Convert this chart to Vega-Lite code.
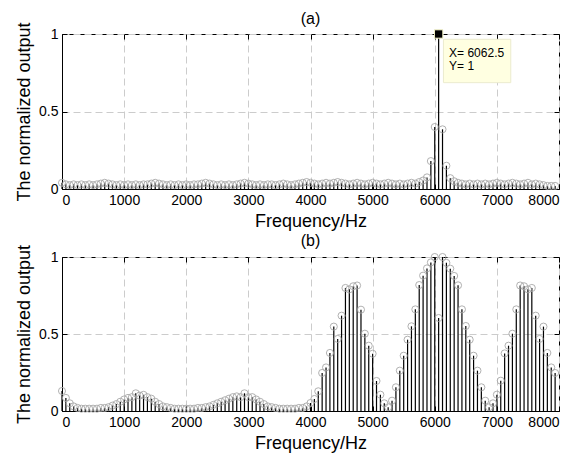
{
  "$schema": "https://vega.github.io/schema/vega-lite/v6.json",
  "padding": {"left": 15, "top": 10, "right": 5, "bottom": 3},
  "spacing": 1,
  "datasets": {
    "a": [
      {"f":0,"v":0.04},{"f":62.5,"v":0.03},{"f":125,"v":0.025},{"f":187.5,"v":0.03},{"f":250,"v":0.025},{"f":312.5,"v":0.03},{"f":375,"v":0.025},{"f":437.5,"v":0.03},
      {"f":500,"v":0.025},{"f":562.5,"v":0.03},{"f":625,"v":0.035},{"f":687.5,"v":0.04},{"f":750,"v":0.035},{"f":812.5,"v":0.03},{"f":875,"v":0.025},{"f":937.5,"v":0.03},
      {"f":1000,"v":0.025},{"f":1062.5,"v":0.03},{"f":1125,"v":0.025},{"f":1187.5,"v":0.03},{"f":1250,"v":0.025},{"f":1312.5,"v":0.03},{"f":1375,"v":0.03},{"f":1437.5,"v":0.035},
      {"f":1500,"v":0.04},{"f":1562.5,"v":0.035},{"f":1625,"v":0.03},{"f":1687.5,"v":0.025},{"f":1750,"v":0.03},{"f":1812.5,"v":0.025},{"f":1875,"v":0.03},{"f":1937.5,"v":0.025},
      {"f":2000,"v":0.03},{"f":2062.5,"v":0.025},{"f":2125,"v":0.03},{"f":2187.5,"v":0.03},{"f":2250,"v":0.035},{"f":2312.5,"v":0.04},{"f":2375,"v":0.035},{"f":2437.5,"v":0.03},
      {"f":2500,"v":0.025},{"f":2562.5,"v":0.03},{"f":2625,"v":0.025},{"f":2687.5,"v":0.03},{"f":2750,"v":0.025},{"f":2812.5,"v":0.03},{"f":2875,"v":0.035},{"f":2937.5,"v":0.04},
      {"f":3000,"v":0.035},{"f":3062.5,"v":0.03},{"f":3125,"v":0.025},{"f":3187.5,"v":0.03},{"f":3250,"v":0.025},{"f":3312.5,"v":0.03},{"f":3375,"v":0.03},{"f":3437.5,"v":0.025},
      {"f":3500,"v":0.03},{"f":3562.5,"v":0.035},{"f":3625,"v":0.03},{"f":3687.5,"v":0.025},{"f":3750,"v":0.03},{"f":3812.5,"v":0.035},{"f":3875,"v":0.04},{"f":3937.5,"v":0.045},
      {"f":4000,"v":0.04},{"f":4062.5,"v":0.035},{"f":4125,"v":0.03},{"f":4187.5,"v":0.035},{"f":4250,"v":0.04},{"f":4312.5,"v":0.035},{"f":4375,"v":0.04},{"f":4437.5,"v":0.045},
      {"f":4500,"v":0.04},{"f":4562.5,"v":0.035},{"f":4625,"v":0.03},{"f":4687.5,"v":0.035},{"f":4750,"v":0.04},{"f":4812.5,"v":0.035},{"f":4875,"v":0.03},{"f":4937.5,"v":0.035},
      {"f":5000,"v":0.04},{"f":5062.5,"v":0.035},{"f":5125,"v":0.03},{"f":5187.5,"v":0.035},{"f":5250,"v":0.04},{"f":5312.5,"v":0.035},{"f":5375,"v":0.03},{"f":5437.5,"v":0.035},
      {"f":5500,"v":0.03},{"f":5562.5,"v":0.035},{"f":5625,"v":0.04},{"f":5687.5,"v":0.035},{"f":5750,"v":0.045},{"f":5812.5,"v":0.055},{"f":5875,"v":0.075},{"f":5937.5,"v":0.18},
      {"f":6000,"v":0.40},{"f":6062.5,"v":1.0},{"f":6125,"v":0.385},{"f":6187.5,"v":0.15},{"f":6250,"v":0.07},{"f":6312.5,"v":0.05},{"f":6375,"v":0.04},{"f":6437.5,"v":0.035},
      {"f":6500,"v":0.03},{"f":6562.5,"v":0.035},{"f":6625,"v":0.03},{"f":6687.5,"v":0.035},{"f":6750,"v":0.03},{"f":6812.5,"v":0.035},{"f":6875,"v":0.03},{"f":6937.5,"v":0.035},
      {"f":7000,"v":0.04},{"f":7062.5,"v":0.035},{"f":7125,"v":0.03},{"f":7187.5,"v":0.035},{"f":7250,"v":0.04},{"f":7312.5,"v":0.035},{"f":7375,"v":0.03},{"f":7437.5,"v":0.035},
      {"f":7500,"v":0.04},{"f":7562.5,"v":0.03},{"f":7625,"v":0.035},{"f":7687.5,"v":0.03},{"f":7750,"v":0.025},{"f":7812.5,"v":0.02},{"f":7875,"v":0.02},{"f":7937.5,"v":0.02}
    ],
    "b": [
      {"f":0,"v":0.13},{"f":62.5,"v":0.085},{"f":125,"v":0.05},{"f":187.5,"v":0.03},{"f":250,"v":0.02},{"f":312.5,"v":0.015},{"f":375,"v":0.015},{"f":437.5,"v":0.015},
      {"f":500,"v":0.015},{"f":562.5,"v":0.015},{"f":625,"v":0.02},{"f":687.5,"v":0.02},{"f":750,"v":0.025},{"f":812.5,"v":0.035},{"f":875,"v":0.045},{"f":937.5,"v":0.06},
      {"f":1000,"v":0.075},{"f":1062.5,"v":0.085},{"f":1125,"v":0.09},{"f":1187.5,"v":0.115},{"f":1250,"v":0.1},{"f":1312.5,"v":0.105},{"f":1375,"v":0.09},{"f":1437.5,"v":0.08},
      {"f":1500,"v":0.06},{"f":1562.5,"v":0.045},{"f":1625,"v":0.03},{"f":1687.5,"v":0.025},{"f":1750,"v":0.02},{"f":1812.5,"v":0.015},{"f":1875,"v":0.015},{"f":1937.5,"v":0.015},
      {"f":2000,"v":0.015},{"f":2062.5,"v":0.015},{"f":2125,"v":0.015},{"f":2187.5,"v":0.02},{"f":2250,"v":0.02},{"f":2312.5,"v":0.025},{"f":2375,"v":0.03},{"f":2437.5,"v":0.04},
      {"f":2500,"v":0.05},{"f":2562.5,"v":0.06},{"f":2625,"v":0.07},{"f":2687.5,"v":0.08},{"f":2750,"v":0.09},{"f":2812.5,"v":0.095},{"f":2875,"v":0.09},{"f":2937.5,"v":0.115},
      {"f":3000,"v":0.09},{"f":3062.5,"v":0.09},{"f":3125,"v":0.075},{"f":3187.5,"v":0.06},{"f":3250,"v":0.045},{"f":3312.5,"v":0.03},{"f":3375,"v":0.025},{"f":3437.5,"v":0.02},
      {"f":3500,"v":0.015},{"f":3562.5,"v":0.015},{"f":3625,"v":0.015},{"f":3687.5,"v":0.015},{"f":3750,"v":0.015},{"f":3812.5,"v":0.02},{"f":3875,"v":0.02},{"f":3937.5,"v":0.03},
      {"f":4000,"v":0.052},{"f":4062.5,"v":0.078},{"f":4125,"v":0.128},{"f":4187.5,"v":0.247},{"f":4250,"v":0.283},{"f":4312.5,"v":0.377},{"f":4375,"v":0.548},{"f":4437.5,"v":0.468},
      {"f":4500,"v":0.619},{"f":4562.5,"v":0.799},{"f":4625,"v":0.79},{"f":4687.5,"v":0.81},{"f":4750,"v":0.815},{"f":4812.5,"v":0.658},{"f":4875,"v":0.502},{"f":4937.5,"v":0.424},
      {"f":5000,"v":0.372},{"f":5062.5,"v":0.195},{"f":5125,"v":0.106},{"f":5187.5,"v":0.05},{"f":5250,"v":0.024},{"f":5312.5,"v":0.067},{"f":5375,"v":0.154},{"f":5437.5,"v":0.262},
      {"f":5500,"v":0.359},{"f":5562.5,"v":0.463},{"f":5625,"v":0.55},{"f":5687.5,"v":0.66},{"f":5750,"v":0.818},{"f":5812.5,"v":0.879},{"f":5875,"v":0.926},{"f":5937.5,"v":0.965},
      {"f":6000,"v":1.0},{"f":6062.5,"v":0.604},{"f":6125,"v":1.0},{"f":6187.5,"v":0.962},{"f":6250,"v":0.924},{"f":6312.5,"v":0.877},{"f":6375,"v":0.816},{"f":6437.5,"v":0.66},
      {"f":6500,"v":0.552},{"f":6562.5,"v":0.463},{"f":6625,"v":0.359},{"f":6687.5,"v":0.262},{"f":6750,"v":0.154},{"f":6812.5,"v":0.067},{"f":6875,"v":0.024},{"f":6937.5,"v":0.05},
      {"f":7000,"v":0.106},{"f":7062.5,"v":0.197},{"f":7125,"v":0.374},{"f":7187.5,"v":0.424},{"f":7250,"v":0.502},{"f":7312.5,"v":0.66},{"f":7375,"v":0.815},{"f":7437.5,"v":0.81},
      {"f":7500,"v":0.79},{"f":7562.5,"v":0.799},{"f":7625,"v":0.619},{"f":7687.5,"v":0.468},{"f":7750,"v":0.548},{"f":7812.5,"v":0.377},{"f":7875,"v":0.283},{"f":7937.5,"v":0.247}
    ],
    "tip": [{"X": 6062.5, "Y": 1}]
  },
  "vconcat": [
    {
      "width": 497,
      "height": 155,
      "title": {"text": "(a)"},
      "resolve": {"axis": {"x": "independent", "y": "independent"}},
      "layer": [
        {
          "data": {"name": "a"},
          "mark": {"type": "rule", "color": "black", "strokeWidth": 1.2},
          "encoding": {
            "x": {"field": "f", "type": "quantitative", "scale": {"domain": [0, 8000], "nice": false},
                  "axis": {"orient": "bottom", "values": [0,1000,2000,3000,4000,5000,6000,7000,8000], "format": "d", "title": "Frequency/Hz", "grid": true, "labelPadding": 9}},
            "y": {"field": "v", "type": "quantitative", "scale": {"domain": [0, 1], "nice": false},
                  "axis": {"orient": "left", "values": [0, 0.5, 1], "format": ".1~f", "title": "The normalized output", "grid": true, "labelPadding": 9}},
            "y2": {"datum": 0}
          }
        },
        {
          "data": {"name": "a"},
          "mark": {"type": "point", "shape": "circle", "filled": false, "stroke": "#a8a8a8", "strokeWidth": 0.9, "size": 50, "opacity": 1},
          "encoding": {
            "x": {"field": "f", "type": "quantitative", "axis": {"orient": "top", "values": [0,1000,2000,3000,4000,5000,6000,7000,8000], "labels": false, "grid": false, "domain": false, "title": null, "minExtent": 0, "maxExtent": 0}},
            "y": {"field": "v", "type": "quantitative", "axis": {"orient": "right", "values": [0, 0.5, 1], "labels": false, "grid": false, "domain": false, "title": null, "minExtent": 0, "maxExtent": 0}}
          }
        },
        {
          "data": {"name": "tip"},
          "mark": {"type": "rect", "fill": "#ffffe1", "stroke": "#ebebcf", "strokeWidth": 1},
          "encoding": {
            "x": {"datum": 6140, "type": "quantitative", "axis": null},
            "x2": {"datum": 7224},
            "y": {"datum": 0.686, "type": "quantitative", "axis": null},
            "y2": {"datum": 0.966}
          }
        },
        {
          "data": {"name": "tip"},
          "mark": {"type": "point", "shape": "square", "filled": true, "fill": "black", "stroke": "#f5f5c8", "strokeWidth": 1, "size": 70, "opacity": 1},
          "encoding": {
            "x": {"field": "X", "type": "quantitative", "axis": null},
            "y": {"field": "Y", "type": "quantitative", "axis": null}
          }
        },
        {
          "data": {"name": "tip"},
          "mark": {"type": "text", "align": "left", "baseline": "alphabetic", "fontSize": 12, "font": "Liberation Sans", "color": "black"},
          "encoding": {
            "x": {"datum": 6231, "type": "quantitative", "axis": null},
            "y": {"datum": 0.85, "type": "quantitative", "axis": null},
            "text": {"value": "X= 6062.5"}
          }
        },
        {
          "data": {"name": "tip"},
          "mark": {"type": "text", "align": "left", "baseline": "alphabetic", "fontSize": 12, "font": "Liberation Sans", "color": "black"},
          "encoding": {
            "x": {"datum": 6231, "type": "quantitative", "axis": null},
            "y": {"datum": 0.765, "type": "quantitative", "axis": null},
            "text": {"value": "Y= 1"}
          }
        }
      ]
    },
    {
      "width": 497,
      "height": 154,
      "title": {"text": "(b)"},
      "resolve": {"axis": {"x": "independent", "y": "independent"}},
      "layer": [
        {
          "data": {"name": "b"},
          "mark": {"type": "rule", "color": "black", "strokeWidth": 1.2},
          "encoding": {
            "x": {"field": "f", "type": "quantitative", "scale": {"domain": [0, 8000], "nice": false},
                  "axis": {"orient": "bottom", "values": [0,1000,2000,3000,4000,5000,6000,7000,8000], "format": "d", "title": "Frequency/Hz", "grid": true, "labelPadding": 9}},
            "y": {"field": "v", "type": "quantitative", "scale": {"domain": [0, 1], "nice": false},
                  "axis": {"orient": "left", "values": [0, 0.5, 1], "format": ".1~f", "title": "The normalized output", "grid": true, "labelPadding": 9}},
            "y2": {"datum": 0}
          }
        },
        {
          "data": {"name": "b"},
          "mark": {"type": "point", "shape": "circle", "filled": false, "stroke": "#a8a8a8", "strokeWidth": 0.9, "size": 50, "opacity": 1},
          "encoding": {
            "x": {"field": "f", "type": "quantitative", "axis": {"orient": "top", "values": [0,1000,2000,3000,4000,5000,6000,7000,8000], "labels": false, "grid": false, "domain": false, "title": null, "minExtent": 0, "maxExtent": 0}},
            "y": {"field": "v", "type": "quantitative", "axis": {"orient": "right", "values": [0, 0.5, 1], "labels": false, "grid": false, "domain": false, "title": null, "minExtent": 0, "maxExtent": 0}}
          }
        }
      ]
    }
  ],
  "config": {
    "font": "Liberation Sans",
    "background": "white",
    "view": {"stroke": "black", "strokeWidth": 1},
    "axis": {
      "labelFont": "Liberation Sans",
      "labelFontSize": 14,
      "labelColor": "black",
      "titleFont": "Liberation Sans",
      "titleFontSize": 18,
      "titleFontWeight": "normal",
      "titleColor": "black",
      "titlePadding": 5,
      "domainColor": "black",
      "tickColor": "black",
      "tickSize": -5,
      "gridColor": "#cccccc",
      "gridDash": [7, 4],
      "gridWidth": 1
    },
    "title": {"font": "Liberation Sans", "fontSize": 16, "fontWeight": "normal", "color": "black", "offset": -5}
  }
}
